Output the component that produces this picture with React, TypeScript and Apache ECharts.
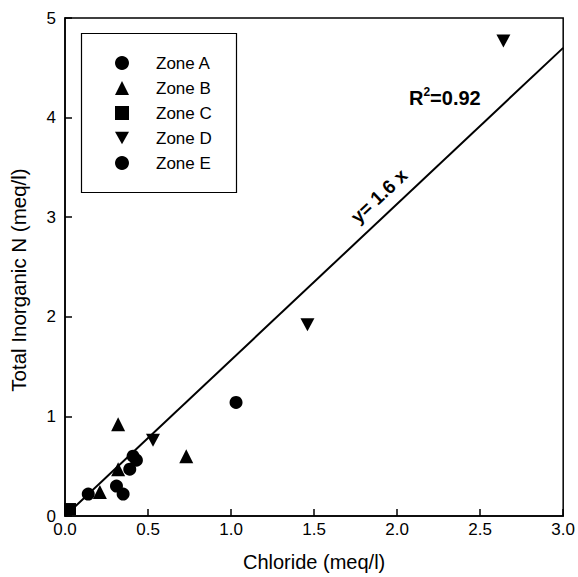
import React, { useEffect, useRef } from "react";
import * as echarts from "echarts";

const zoneA: [number, number][] = [
  [1.03, 1.14],
  [0.41, 0.6],
  [0.14, 0.22],
];
const zoneB: [number, number][] = [
  [0.32, 0.92],
  [0.73, 0.6],
  [0.21, 0.24],
  [0.32, 0.47],
];
const zoneC: [number, number][] = [[0.03, 0.07]];
const zoneD: [number, number][] = [
  [2.64, 4.77],
  [1.46, 1.92],
  [0.53, 0.76],
];
const zoneE: [number, number][] = [
  [0.43, 0.56],
  [0.39, 0.47],
  [0.31, 0.3],
  [0.35, 0.22],
];
const fitLine: [number, number][] = [
  [0, 0],
  [3, 4.7],
];
const xTicks = [0, 0.5, 1, 1.5, 2, 2.5, 3];
const yTicks = [0, 1, 2, 3, 4, 5];

const FONT = "'Liberation Sans', Arial, Helvetica, sans-serif";
const DOWN_TRI = "path://M0,0 L10,0 L5,9 Z";

export default function App() {
  const ref = useRef<HTMLDivElement>(null);
  useEffect(() => {
    if (!ref.current) return;
    const chart = echarts.init(ref.current, undefined, { renderer: "svg" });
    const scatter = (name: string, data: [number, number][], symbol: string, size: number | number[]) => ({
      name,
      type: "scatter",
      data,
      symbol,
      symbolSize: size,
      itemStyle: { color: "#000", opacity: 1 },
      z: 3,
    });
    chart.setOption({
      animation: false,
      backgroundColor: "#fff",
      textStyle: { fontFamily: FONT, color: "#000" },
      grid: { left: 63, right: 12, top: 18, bottom: 58, show: true, borderColor: "#000", borderWidth: 1.5 },
      xAxis: {
        type: "value",
        min: 0,
        max: 3,
        interval: 0.5,
        name: "Chloride (meq/l)",
        nameLocation: "middle",
        nameGap: 36,
        nameTextStyle: { fontSize: 20, color: "#000", fontFamily: FONT },
        axisLine: { show: true, onZero: false, lineStyle: { color: "#000", width: 1.5 } },
        axisTick: { show: true, inside: true, length: 7, lineStyle: { color: "#000", width: 1.5 } },
        axisLabel: {
          color: "#000",
          fontSize: 17,
          margin: 5,
          fontFamily: FONT,
          formatter: (v: number) => (xTicks.includes(v) ? v.toFixed(1) : ""),
        },
        splitLine: { show: false },
      },
      yAxis: {
        type: "value",
        min: 0,
        max: 5,
        interval: 1,
        name: "Total Inorganic N (meq/l)",
        nameLocation: "middle",
        nameGap: 36,
        nameTextStyle: { fontSize: 20.5, color: "#000", fontFamily: FONT, padding: [0, 26, 0, 0] },
        axisLine: { show: true, onZero: false, lineStyle: { color: "#000", width: 1.5 } },
        axisTick: { show: true, inside: true, length: 7, lineStyle: { color: "#000", width: 1.5 } },
        axisLabel: {
          color: "#000",
          fontSize: 17,
          margin: 9,
          fontFamily: FONT,
          formatter: (v: number) => (yTicks.includes(v) ? String(v) : ""),
        },
        splitLine: { show: false },
      },
      legend: {
        show: true,
        orient: "vertical",
        left: 115,
        top: 54.5,
        itemWidth: 14,
        itemHeight: 14,
        itemGap: 8,
        padding: 0,
        data: ["Zone A", "Zone B", "Zone C", "Zone D", "Zone E"],
        textStyle: { fontSize: 17, color: "#000", fontFamily: FONT, padding: [0, 0, 0, 22] },
      },
      graphic: [
        {
          type: "rect",
          shape: { x: 81.5, y: 33.5, width: 155, height: 159 },
          style: { fill: "none", stroke: "#000", lineWidth: 1.2 },
          z: 10,
        },
        {
          type: "text",
          x: 409,
          y: 98,
          style: {
            text: "{a|R}{s|2}{a|=0.92}",
            verticalAlign: "middle",
            rich: {
              a: { fontSize: 20, fontWeight: "bold", fontFamily: FONT, fill: "#000" },
              s: { fontSize: 12, fontWeight: "bold", fontFamily: FONT, fill: "#000", padding: [0, 0, 12, 0] },
            },
          },
          z: 10,
        },
        {
          type: "text",
          x: 379,
          y: 196,
          rotation: (43.2 * Math.PI) / 180,
          style: {
            text: "y= 1.6 x",
            align: "center",
            verticalAlign: "middle",
            fontSize: 19,
            fontWeight: "bold",
            fontFamily: FONT,
            fill: "#000",
          },
          z: 10,
        },
      ],
      series: [
        {
          name: "fit",
          type: "line",
          data: fitLine,
          showSymbol: false,
          symbol: "none",
          lineStyle: { color: "#000", width: 2 },
          z: 2,
          silent: true,
        },
        scatter("Zone A", zoneA, "circle", 13),
        scatter("Zone B", zoneB, "triangle", 14),
        scatter("Zone C", zoneC, "rect", 12),
        scatter("Zone D", zoneD, DOWN_TRI, [14, 13]),
        scatter("Zone E", zoneE, "circle", 13),
      ],
    });
    return () => chart.dispose();
  }, []);
  return (
    <div
      ref={ref}
      style={{ position: "fixed", left: 0, top: 0, width: 578, height: 577 }}
    />
  );
}
